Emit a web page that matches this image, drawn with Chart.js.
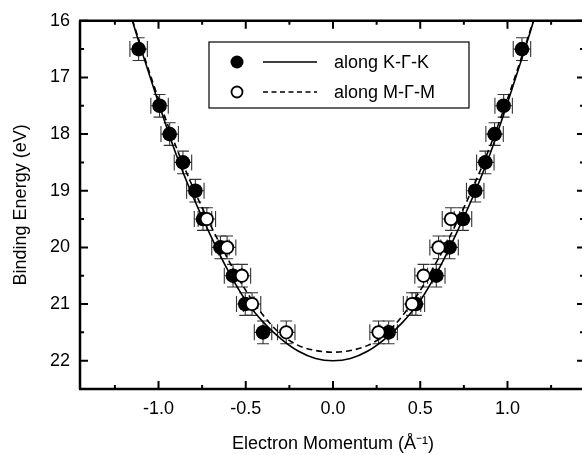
<!DOCTYPE html>
<html><head><meta charset="utf-8">
<script src="https://cdn.jsdelivr.net/npm/chart.js@4.4.0/dist/chart.umd.min.js"></script>
<style>
html,body{margin:0;padding:0;background:#fff;overflow:hidden;width:582px;height:455px}
#wrap{width:600px;height:455px;position:relative}
</style></head><body><div id="wrap"><canvas id="c" width="600" height="455"></canvas></div>
<script>
// ---- data ----
const filledK = [-1.114, -0.994, -0.936, -0.860, -0.789, -0.745, -0.645, -0.573, -0.503, -0.401, 0.319, 0.475, 0.592, 0.668, 0.745, 0.815, 0.873, 0.926, 0.978, 1.083];
const filledE = [16.5, 17.5, 18.0, 18.5, 19.0, 19.5, 20.0, 20.5, 21.0, 21.5, 21.5, 21.0, 20.5, 20.0, 19.5, 19.0, 18.5, 18.0, 17.5, 16.5];
const openK = [-0.723, -0.607, -0.522, -0.464, -0.268, 0.261, 0.453, 0.519, 0.605, 0.676];
const openE = [19.5, 20.0, 20.5, 21.0, 21.5, 21.5, 21.0, 20.5, 20.0, 19.5];
const solidK = [-1.15, -1.1, -1.0, -0.9, -0.8, -0.7, -0.6, -0.5, -0.4, -0.3, -0.2, -0.1, 0, 0.1, 0.2, 0.3, 0.4, 0.5, 0.6, 0.7, 0.8, 0.9, 1.0, 1.1, 1.15];
const solidE = [16.0, 16.5, 17.45, 18.35, 19.12, 19.80, 20.42, 20.94, 21.32, 21.61, 21.83, 21.96, 22.0, 21.96, 21.83, 21.61, 21.32, 20.94, 20.42, 19.80, 19.12, 18.35, 17.45, 16.5, 16.0];
const dashK = [-1.15, -1.1, -1.0, -0.9, -0.8, -0.7, -0.6, -0.5, -0.4, -0.3, -0.2, -0.1, 0, 0.1, 0.2, 0.3, 0.4, 0.5, 0.6, 0.7, 0.8, 0.9, 1.0, 1.1, 1.15];
const dashE = [15.98, 16.46, 17.38, 18.22, 18.96, 19.62, 20.22, 20.76, 21.20, 21.53, 21.73, 21.82, 21.85, 21.82, 21.73, 21.53, 21.20, 20.76, 20.22, 19.62, 18.96, 18.22, 17.38, 16.46, 15.98];
const xErr = 0.05;   // Å^-1
const yErr = 0.2;    // eV
const legendLabels = ['along K-\u0393-K', 'along M-\u0393-M'];
const xTitle = 'Electron Momentum (\u00C5\u207B\u00B9)';
const yTitle = 'Binding Energy (eV)';

const FONT = '"Liberation Sans", Arial, Helvetica, sans-serif';
Chart.defaults.font.family = FONT;
Chart.defaults.color = '#000';

const pts = (xs, ys) => xs.map((x, i) => ({x, y: ys[i]}));

const errorBars = {
  id: 'errorBars',
  beforeDatasetsDraw(chart) {
    const {ctx, scales: {x, y}} = chart;
    ctx.save();
    ctx.strokeStyle = '#333';
    ctx.lineWidth = 1.1;
    [[filledK, filledE], [openK, openE]].forEach(([ks, es]) => {
      ks.forEach((k, i) => {
        const e = es[i];
        const px = x.getPixelForValue(k), py = y.getPixelForValue(e);
        const x0 = x.getPixelForValue(k - xErr), x1 = x.getPixelForValue(k + xErr);
        const y0 = y.getPixelForValue(e - yErr), y1 = y.getPixelForValue(e + yErr);
        ctx.beginPath();
        ctx.moveTo(px, y0); ctx.lineTo(px, y1);
        ctx.moveTo(px - 6, y0); ctx.lineTo(px + 6, y0);
        ctx.moveTo(px - 6, y1); ctx.lineTo(px + 6, y1);
        ctx.moveTo(x0, py); ctx.lineTo(x1, py);
        ctx.moveTo(x0, py - 8); ctx.lineTo(x0, py + 8);
        ctx.moveTo(x1, py - 8); ctx.lineTo(x1, py + 8);
        ctx.stroke();
      });
    });
    ctx.restore();
  }
};

const frame = {
  id: 'frame',
  afterDatasetsDraw(chart) {
    const {ctx, chartArea: a, scales: {x, y}} = chart;
    ctx.save();
    ctx.strokeStyle = '#000';
    ctx.lineWidth = 2.5;
    ctx.beginPath();
    ctx.moveTo(a.left, a.top); ctx.lineTo(a.left, a.bottom);
    ctx.moveTo(a.left - 1, a.top); ctx.lineTo(a.right, a.top);
    ctx.moveTo(a.left - 1, a.bottom); ctx.lineTo(a.right, a.bottom);
    ctx.moveTo(a.right, a.top); ctx.lineTo(a.right, a.bottom);
    ctx.stroke();
    ctx.lineWidth = 2;
    const xStep = 0.5, yStep = 1;
    ctx.beginPath();
    for (let v = -1.5; v <= 1.5 + 1e-9; v += xStep / 2) {
      if (v < x.min || v > x.max) continue;
      const major = Math.abs(v / xStep - Math.round(v / xStep)) < 1e-6;
      const L = major ? 8 : 4;
      const p = x.getPixelForValue(v);
      ctx.moveTo(p, a.bottom); ctx.lineTo(p, a.bottom - L);
      ctx.moveTo(p, a.top); ctx.lineTo(p, a.top + L);
    }
    for (let v = 16; v <= y.max + 1e-9; v += yStep / 2) {
      const major = Math.abs(v - Math.round(v)) < 1e-6;
      const p = y.getPixelForValue(v);
      ctx.moveTo(a.left, p); ctx.lineTo(a.left + (major ? 8 : 4), p);
      ctx.moveTo(a.right, p); ctx.lineTo(a.right - (major ? 9 : 6), p);
    }
    ctx.stroke();
    ctx.restore();
  },
  afterDraw(chart) {
    const {ctx} = chart;
    ctx.save();
    ctx.strokeStyle = '#000';
    ctx.lineWidth = 1.2;
    ctx.fillStyle = '#fff';
    ctx.fillRect(209, 42, 260, 66);
    ctx.strokeRect(209, 42, 260, 66);
    const rows = [62, 92];
    ctx.fillStyle = '#000';
    ctx.beginPath(); ctx.arc(237, rows[0], 6.5, 0, Math.PI * 2); ctx.fill();
    ctx.lineWidth = 1.5;
    ctx.beginPath(); ctx.moveTo(263, rows[0]); ctx.lineTo(317, rows[0]); ctx.stroke();
    ctx.fillStyle = '#fff';
    ctx.lineWidth = 1.8;
    ctx.beginPath(); ctx.arc(237, rows[1], 5.5, 0, Math.PI * 2); ctx.fill(); ctx.stroke();
    ctx.lineWidth = 1.5;
    ctx.setLineDash([5, 3.5]);
    ctx.beginPath(); ctx.moveTo(263, rows[1]); ctx.lineTo(317, rows[1]); ctx.stroke();
    ctx.setLineDash([]);
    ctx.fillStyle = '#000';
    ctx.font = '18px ' + FONT;
    ctx.textBaseline = 'middle';
    ctx.textAlign = 'left';
    ctx.fillText(legendLabels[0], 334, rows[0] + 1);
    ctx.fillText(legendLabels[1], 334, rows[1] + 1);
    ctx.restore();
  }
};

new Chart(document.getElementById('c'), {
  type: 'scatter',
  data: {
    datasets: [
      {label: legendLabels[1] + ' (data)', data: pts(openK, openE), pointRadius: 6.2, pointBorderWidth: 1.8,
       pointBackgroundColor: '#fff', pointBorderColor: '#000', showLine: false, order: 0},
      {label: legendLabels[0] + ' (data)', data: pts(filledK, filledE), pointRadius: 7.3,
       pointBackgroundColor: '#000', pointBorderColor: '#000', pointBorderWidth: 0, showLine: false, order: 1},
      {label: legendLabels[0], data: pts(solidK, solidE), showLine: true, pointRadius: 0, borderColor: '#000',
       borderWidth: 1.6, cubicInterpolationMode: 'monotone', fill: false, order: 2},
      {label: legendLabels[1], data: pts(dashK, dashE), showLine: true, pointRadius: 0, borderColor: '#000',
       borderWidth: 1.6, borderDash: [6, 4], cubicInterpolationMode: 'monotone', fill: false, order: 3}
    ]
  },
  options: {
    responsive: false,
    animation: false,
    events: [],
    layout: {padding: {top: 14, right: 14, left: 0, bottom: 0}},
    plugins: {legend: {display: false}, tooltip: {enabled: false}},
    scales: {
      x: {
        type: 'linear', position: 'bottom', min: -1.45, max: 1.45,
        grid: {display: false, drawTicks: false}, border: {display: false},
        ticks: {stepSize: 0.5, includeBounds: false, padding: 9, font: {size: 18}, color: '#000',
                callback: v => Number(v).toFixed(1)},
        title: {display: true, text: xTitle, font: {size: 18}, color: '#000', padding: {top: 4, bottom: 0}},
        afterFit: s => { s.height = 66; }
      },
      y: {
        type: 'linear', position: 'left', min: 16, max: 22.5, reverse: true,
        grid: {display: false, drawTicks: false}, border: {display: false},
        ticks: {stepSize: 1, includeBounds: false, padding: 10, font: {size: 18}, color: '#000',
                callback: v => String(Math.round(v))},
        title: {display: true, text: yTitle, font: {size: 18}, color: '#000', padding: {top: 10, bottom: 0}},
        afterFit: s => { s.width = 80; }
      }
    }
  },
  plugins: [errorBars, frame]
});
</script></body></html>
